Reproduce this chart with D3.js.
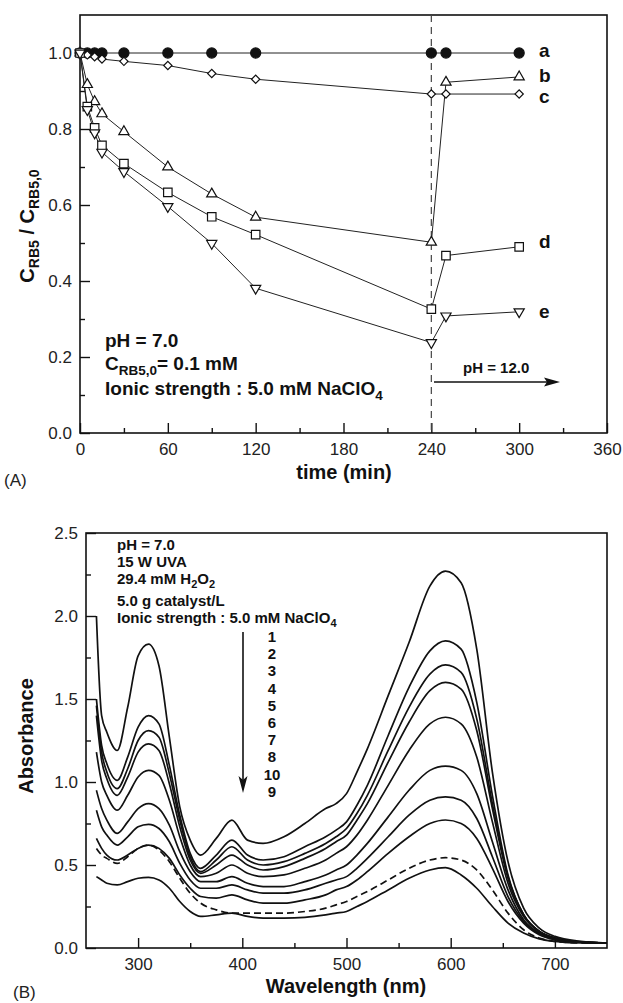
<!DOCTYPE html>
<html>
<head>
<meta charset="utf-8">
<script src="https://cdn.jsdelivr.net/npm/d3@7"></script>
<style>
body { margin: 0; background: #fff; }
svg { font-family: "Liberation Sans", Arial, Helvetica, sans-serif; }
</style>
</head>
<body>
<div id="chart"></div>
<script>
// ---- panel (A): C/C0 vs time ----
var timeMin = [0, 5, 10, 15, 30, 60, 90, 120, 240, 250, 300];
var serA = [1.0, 1.0, 1.0, 1.0, 1.0, 1.0, 1.0, 1.0, 1.0, 1.0, 1.0];
var serB = [1.0, 0.917, 0.872, 0.840, 0.793, 0.700, 0.629, 0.568, 0.502, 0.923, 0.937];
var serC = [1.0, 0.995, 0.990, 0.984, 0.978, 0.967, 0.946, 0.931, 0.892, 0.892, 0.892];
var serD = [1.0, 0.859, 0.803, 0.757, 0.709, 0.633, 0.569, 0.522, 0.326, 0.467, 0.490];
var serE = [1.0, 0.851, 0.790, 0.739, 0.688, 0.596, 0.499, 0.381, 0.238, 0.308, 0.319];
var seriesNames = ["a", "b", "c", "d", "e"];
var timeTicks = [0, 60, 120, 180, 240, 300, 360];
var ratioTicks = [0, 0.2, 0.4, 0.6, 0.8, 1.0];

// ---- panel (B): absorbance spectra ----
var wavelength = [260, 265, 270, 280, 290, 300, 310, 320, 330, 340, 350, 360, 375, 390, 405, 420, 440, 460, 480, 490,
                  500, 510, 520, 540, 560, 580, 595, 610, 625, 640, 655, 670, 685, 700, 725, 750];
var spec1 = [2.00, 1.40, 1.30, 1.19, 1.45, 1.76, 1.83, 1.70, 1.27, 0.85, 0.65, 0.56, 0.66, 0.77, 0.65, 0.63, 0.67, 0.75, 0.84, 0.87,
             0.93, 1.06, 1.20, 1.52, 1.84, 2.18, 2.27, 2.20, 1.80, 1.06, 0.52, 0.24, 0.12, 0.07, 0.04, 0.03];
var spec2 = [1.50, 1.22, 1.11, 1.01, 1.15, 1.33, 1.40, 1.35, 1.10, 0.80, 0.57, 0.48, 0.56, 0.65, 0.56, 0.53, 0.55, 0.61, 0.67, 0.71,
             0.76, 0.86, 0.98, 1.28, 1.57, 1.79, 1.85, 1.80, 1.48, 0.92, 0.44, 0.20, 0.10, 0.06, 0.035, 0.03];
var spec3 = [1.46, 1.18, 1.06, 0.96, 1.08, 1.25, 1.31, 1.27, 1.05, 0.77, 0.55, 0.46, 0.53, 0.61, 0.53, 0.50, 0.52, 0.57, 0.63, 0.67,
             0.72, 0.81, 0.92, 1.19, 1.45, 1.65, 1.705, 1.66, 1.38, 0.87, 0.43, 0.20, 0.10, 0.06, 0.035, 0.03];
var spec4 = [1.40, 1.13, 1.02, 0.92, 1.03, 1.18, 1.23, 1.19, 0.99, 0.73, 0.53, 0.45, 0.50, 0.56, 0.50, 0.47, 0.49, 0.54, 0.60, 0.64,
             0.68, 0.77, 0.87, 1.12, 1.36, 1.55, 1.60, 1.56, 1.31, 0.84, 0.42, 0.20, 0.10, 0.06, 0.035, 0.03];
var spec5 = [1.18, 1.00, 0.92, 0.83, 0.92, 1.03, 1.07, 1.04, 0.89, 0.67, 0.50, 0.43, 0.45, 0.50, 0.45, 0.43, 0.44, 0.48, 0.53, 0.57,
             0.61, 0.68, 0.77, 0.98, 1.19, 1.35, 1.39, 1.35, 1.15, 0.76, 0.39, 0.19, 0.10, 0.06, 0.035, 0.03];
var spec6 = [0.95, 0.84, 0.77, 0.69, 0.76, 0.84, 0.87, 0.84, 0.74, 0.58, 0.46, 0.40, 0.40, 0.43, 0.39, 0.37, 0.37, 0.40, 0.44, 0.47,
             0.50, 0.56, 0.63, 0.79, 0.95, 1.07, 1.096, 1.07, 0.93, 0.64, 0.35, 0.17, 0.09, 0.055, 0.035, 0.03];
var spec7 = [0.83, 0.73, 0.68, 0.62, 0.67, 0.73, 0.745, 0.72, 0.64, 0.51, 0.41, 0.36, 0.36, 0.38, 0.35, 0.33, 0.33, 0.35, 0.39, 0.41,
             0.43, 0.48, 0.54, 0.67, 0.80, 0.89, 0.91, 0.89, 0.78, 0.55, 0.31, 0.16, 0.085, 0.05, 0.035, 0.03];
var spec8 = [0.66, 0.60, 0.56, 0.53, 0.56, 0.60, 0.62, 0.60, 0.54, 0.44, 0.36, 0.31, 0.30, 0.32, 0.29, 0.27, 0.27, 0.29, 0.32, 0.35,
             0.37, 0.41, 0.46, 0.57, 0.67, 0.75, 0.771, 0.75, 0.66, 0.48, 0.28, 0.15, 0.08, 0.05, 0.035, 0.03];
var spec10 = [0.60, 0.56, 0.54, 0.51, 0.55, 0.60, 0.62, 0.59, 0.52, 0.42, 0.33, 0.27, 0.23, 0.21, 0.21, 0.21, 0.21, 0.22, 0.24, 0.26,
              0.28, 0.31, 0.34, 0.41, 0.48, 0.53, 0.544, 0.53, 0.47, 0.35, 0.21, 0.11, 0.06, 0.04, 0.03, 0.03];
var spec9 = [0.43, 0.41, 0.39, 0.38, 0.40, 0.42, 0.425, 0.41, 0.36, 0.28, 0.22, 0.19, 0.20, 0.21, 0.19, 0.18, 0.18, 0.185, 0.20, 0.21,
             0.22, 0.25, 0.28, 0.35, 0.42, 0.47, 0.484, 0.44, 0.36, 0.25, 0.15, 0.09, 0.055, 0.04, 0.03, 0.03];
var specLabels = ["1", "2", "3", "4", "5", "6", "7", "8", "10", "9"];
var waveTicks = [300, 400, 500, 600, 700];
var absTicks = [0, 0.5, 1.0, 1.5, 2.0, 2.5];

var W = 623, H = 1003;
var svg = d3.select("#chart").append("svg").attr("width", W).attr("height", H);

var ink = "#111";

// frame with inward major/minor ticks
function drawAxes(g, x, y, xMaj, xMin, yMaj, yMin, yFmt) {
  var left = x.range()[0], right = x.range()[1];
  var bottom = y.range()[0], top = y.range()[1];

  g.append("g").attr("transform", "translate(0," + bottom + ")")
      .call(d3.axisBottom(x).tickValues(xMaj).tickSize(-10).tickPadding(10).tickFormat(d3.format("d")));
  g.append("g").attr("transform", "translate(0," + bottom + ")")
      .call(d3.axisBottom(x).tickValues(xMin).tickSize(-5).tickFormat(""));
  g.append("g").attr("transform", "translate(" + left + ",0)")
      .call(d3.axisLeft(y).tickValues(yMaj).tickSize(-10).tickPadding(8).tickFormat(yFmt));
  g.append("g").attr("transform", "translate(" + left + ",0)")
      .call(d3.axisLeft(y).tickValues(yMin).tickSize(-5).tickFormat(""));

  g.selectAll(".domain").remove();
  g.selectAll(".tick line").attr("stroke", ink).attr("stroke-width", 1.4);
  g.selectAll(".tick text").attr("fill", "#222").style("font-size", "17px");

  g.append("rect")
    .attr("x", left).attr("y", top)
    .attr("width", right - left).attr("height", bottom - top)
    .attr("fill", "none").attr("stroke", ink).attr("stroke-width", 1.6);
}

// ================= panel A =================
var xA = d3.scaleLinear().domain([0, 360]).range([80, 607]);
var yA = d3.scaleLinear().domain([0, 1.1]).range([433, 15]);
var gA = svg.append("g");

drawAxes(gA, xA, yA, timeTicks, [30, 90, 150, 210, 270, 330],
         ratioTicks, [0.1, 0.3, 0.5, 0.7, 0.9], d3.format(".1f"));

// dashed line where pH was changed
gA.append("line")
  .attr("x1", xA(240)).attr("x2", xA(240))
  .attr("y1", yA(1.1)).attr("y2", yA(0))
  .attr("stroke", "#444").attr("stroke-width", 1.2)
  .attr("stroke-dasharray", "7,5");

var seriesA = [serA, serB, serC, serD, serE];
var symbolsA = [
  {type: d3.symbolCircle, size: 80, fill: ink, rot: 0},
  {type: d3.symbolTriangle, size: 45, fill: "#fff", rot: 0},
  {type: d3.symbolSquare, size: 34, fill: "#fff", rot: 45},
  {type: d3.symbolSquare, size: 72, fill: "#fff", rot: 0},
  {type: d3.symbolTriangle, size: 45, fill: "#fff", rot: 180}
];

var lineA = d3.line().x(function(d) { return xA(d[0]); }).y(function(d) { return yA(d[1]); });

seriesA.forEach(function(vals, i) {
  var pts = timeMin.map(function(t, j) { return [t, vals[j]]; });
  gA.append("path").datum(pts)
    .attr("d", lineA)
    .attr("fill", "none").attr("stroke", "#222").attr("stroke-width", 1);
});

seriesA.forEach(function(vals, i) {
  var s = symbolsA[i];
  var pts = timeMin.map(function(t, j) { return [t, vals[j]]; });
  gA.selectAll(".m" + i).data(pts).enter().append("path")
    .attr("d", d3.symbol().type(s.type).size(s.size))
    .attr("transform", function(d) {
      return "translate(" + xA(d[0]) + "," + yA(d[1]) + ") rotate(" + s.rot + ")";
    })
    .attr("fill", s.fill).attr("stroke", ink).attr("stroke-width", 1.2);
});

// series letters at the right end
var letterY = [57, 82, 103, 248, 318];
seriesNames.forEach(function(n, i) {
  gA.append("text").attr("x", 539).attr("y", letterY[i])
    .attr("font-weight", "bold").style("font-size", "19px").attr("fill", ink)
    .text(n);
});

// conditions text
var noteA = gA.append("g").attr("fill", ink).attr("font-weight", "bold").style("font-size", "19px");
noteA.append("text").attr("x", 105).attr("y", 347).text("pH = 7.0");
var t2 = noteA.append("text").attr("x", 105).attr("y", 370);
t2.append("tspan").text("C");
t2.append("tspan").attr("dy", 5).style("font-size", "13.5px").text("RB5,0");
t2.append("tspan").attr("dy", -5).text("= 0.1 mM");
var t3 = noteA.append("text").attr("x", 105).attr("y", 395);
t3.append("tspan").text("Ionic strength : 5.0 mM NaClO");
t3.append("tspan").attr("dy", 5).style("font-size", "13.5px").text("4");

// pH 12 arrow
gA.append("text").attr("x", 463).attr("y", 373)
  .attr("font-weight", "bold").style("font-size", "15px").attr("fill", ink)
  .text("pH = 12.0");
gA.append("line").attr("x1", 434).attr("x2", 552).attr("y1", 382).attr("y2", 382)
  .attr("stroke", ink).attr("stroke-width", 1.5);
gA.append("path").attr("d", "M560,382 L544,377.5 L547,382 L544,386.5 Z").attr("fill", ink);

// axis titles
gA.append("text").attr("x", 344).attr("y", 479).attr("text-anchor", "middle")
  .attr("font-weight", "bold").style("font-size", "20px").attr("fill", ink)
  .text("time (min)");
var yt = gA.append("text").attr("transform", "translate(34,226) rotate(-90)")
  .attr("text-anchor", "middle").attr("font-weight", "bold").style("font-size", "20px").attr("fill", ink);
yt.append("tspan").text("C");
yt.append("tspan").attr("dy", 5).style("font-size", "14px").text("RB5");
yt.append("tspan").attr("dy", -5).text(" / C");
yt.append("tspan").attr("dy", 5).style("font-size", "14px").text("RB5,0");
gA.append("text").attr("x", 4).attr("y", 486).style("font-size", "17px").attr("fill", "#222").text("(A)");

// ================= panel B =================
var xB = d3.scaleLinear().domain([250, 750]).range([86, 607]);
var yB = d3.scaleLinear().domain([0, 2.5]).range([948, 533]);
var gB = svg.append("g");

drawAxes(gB, xB, yB, waveTicks, [350, 450, 550, 650],
         absTicks, [0.25, 0.75, 1.25, 1.75, 2.25], d3.format(".1f"));

var spectra = [spec1, spec2, spec3, spec4, spec5, spec6, spec7, spec8, spec10, spec9];
var lineB = d3.line().curve(d3.curveMonotoneX)
  .x(function(d) { return xB(d[0]); }).y(function(d) { return yB(d[1]); });

spectra.forEach(function(vals, i) {
  var pts = wavelength.map(function(w, j) { return [w, vals[j]]; });
  gB.append("path").datum(pts)
    .attr("d", lineB)
    .attr("fill", "none").attr("stroke", ink).attr("stroke-width", 1.7)
    .attr("stroke-dasharray", specLabels[i] === "10" ? "7,4" : null);
});

var noteB = gB.append("g").attr("fill", ink).attr("font-weight", "bold").style("font-size", "15px");
noteB.append("text").attr("x", 117).attr("y", 550).text("pH = 7.0");
noteB.append("text").attr("x", 117).attr("y", 567).text("15 W UVA");
var h2o2 = noteB.append("text").attr("x", 117).attr("y", 584);
h2o2.append("tspan").text("29.4 mM H");
h2o2.append("tspan").attr("dy", 4).style("font-size", "11px").text("2");
h2o2.append("tspan").attr("dy", -4).text("O");
h2o2.append("tspan").attr("dy", 4).style("font-size", "11px").text("2");
noteB.append("text").attr("x", 117).attr("y", 606).text("5.0 g catalyst/L");
var ion = noteB.append("text").attr("x", 117).attr("y", 623);
ion.append("tspan").text("Ionic strength : 5.0 mM NaClO");
ion.append("tspan").attr("dy", 4).style("font-size", "11px").text("4");

specLabels.forEach(function(l, i) {
  noteB.append("text").attr("x", 272).attr("y", 642 + i * 17.2)
    .attr("text-anchor", "middle").text(l);
});

// downward arrow
gB.append("line").attr("x1", 243).attr("x2", 243).attr("y1", 632).attr("y2", 782)
  .attr("stroke", ink).attr("stroke-width", 1.6);
gB.append("path").attr("d", "M243,793 L238.5,776 L243,780 L247.5,776 Z").attr("fill", ink);

gB.append("text").attr("x", 346).attr("y", 993).attr("text-anchor", "middle")
  .attr("font-weight", "bold").style("font-size", "20px").attr("fill", ink)
  .text("Wavelength (nm)");
gB.append("text").attr("transform", "translate(33,736) rotate(-90)")
  .attr("text-anchor", "middle").attr("font-weight", "bold").style("font-size", "20px").attr("fill", ink)
  .text("Absorbance");
gB.append("text").attr("x", 13).attr("y", 998).style("font-size", "17px").attr("fill", "#222").text("(B)");
</script>
</body>
</html>
